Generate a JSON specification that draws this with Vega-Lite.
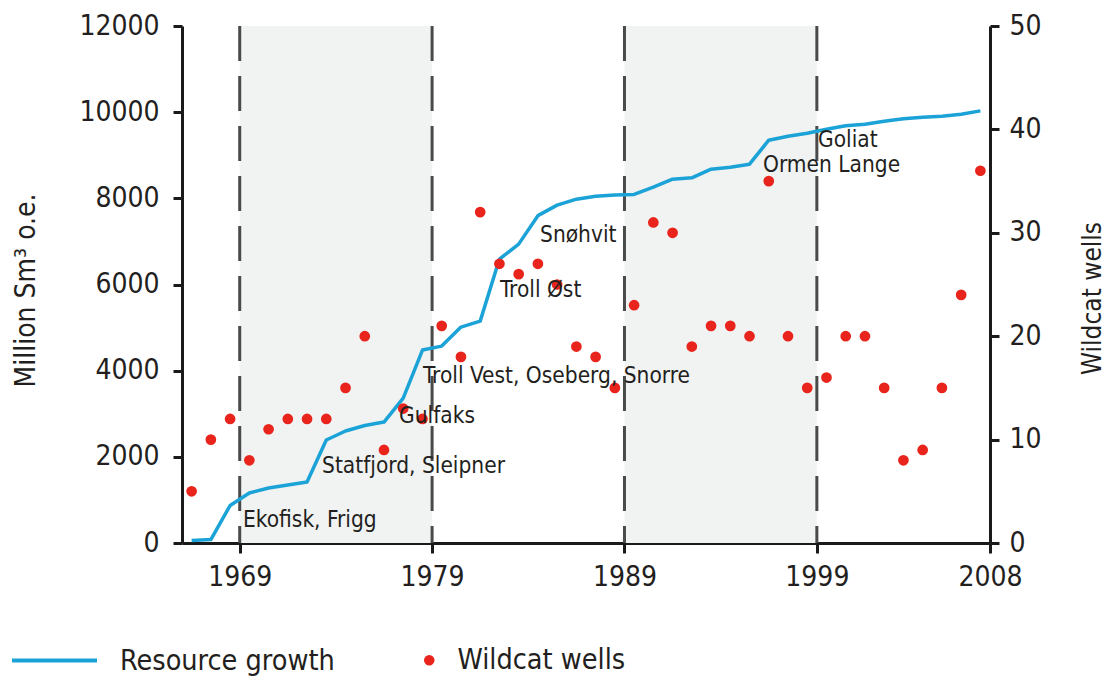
{
  "$schema": "https://vega.github.io/schema/vega-lite/v6.json",
  "width": 808,
  "height": 517,
  "autosize": {"type": "none"},
  "padding": {"left": 182, "top": 26, "right": 122, "bottom": 141},
  "background": "white",
  "config": {
    "font": "DejaVu Sans Condensed, DejaVu Sans, sans-serif",
    "view": {"stroke": null},
    "axis": {
      "grid": false,
      "domainColor": "#1a1a1a",
      "domainWidth": 3,
      "tickColor": "#1a1a1a",
      "tickWidth": 3,
      "tickSize": 9,
      "labelColor": "#231f20",
      "labelFontSize": 28,
      "titleColor": "#231f20",
      "titleFontSize": 28,
      "titleFontWeight": "normal"
    }
  },
  "layer": [
    {
      "data": {"values": [{"start": 1969, "end": 1979}, {"start": 1989, "end": 1999}]},
      "mark": {"type": "rect", "color": "#f1f2f2"},
      "encoding": {
        "x": {
          "field": "start",
          "type": "quantitative",
          "scale": {"domain": [1966, 2008], "nice": false, "zero": false},
          "axis": {"values": [1969, 1979, 1989, 1999, 2008], "format": "d", "title": null, "labelFontSize": 28, "labelPadding": 10, "tickSize": 10, "labelFlush": false}
        },
        "x2": {"field": "end"}
      }
    },
    {
      "data": {"values": [{"year": 1969}, {"year": 1979}, {"year": 1989}, {"year": 1999}]},
      "mark": {"type": "rule", "color": "#4a4a4a", "strokeWidth": 3, "strokeDash": [35, 15]},
      "encoding": {"x": {"field": "year", "type": "quantitative", "title": null}}
    },
    {
      "data": {"values": [
        {"year": 1966.5, "value": 60, "series": "Resource growth"},
        {"year": 1967.5, "value": 80, "series": "Resource growth"},
        {"year": 1968.5, "value": 870, "series": "Resource growth"},
        {"year": 1969.5, "value": 1160, "series": "Resource growth"},
        {"year": 1970.5, "value": 1276, "series": "Resource growth"},
        {"year": 1971.5, "value": 1346, "series": "Resource growth"},
        {"year": 1972.5, "value": 1415, "series": "Resource growth"},
        {"year": 1973.5, "value": 2390, "series": "Resource growth"},
        {"year": 1974.5, "value": 2600, "series": "Resource growth"},
        {"year": 1975.5, "value": 2726, "series": "Resource growth"},
        {"year": 1976.5, "value": 2807, "series": "Resource growth"},
        {"year": 1977.5, "value": 3364, "series": "Resource growth"},
        {"year": 1978.5, "value": 4478, "series": "Resource growth"},
        {"year": 1979.5, "value": 4570, "series": "Resource growth"},
        {"year": 1980.5, "value": 5011, "series": "Resource growth"},
        {"year": 1981.5, "value": 5150, "series": "Resource growth"},
        {"year": 1982.5, "value": 6590, "series": "Resource growth"},
        {"year": 1983.5, "value": 6937, "series": "Resource growth"},
        {"year": 1984.5, "value": 7598, "series": "Resource growth"},
        {"year": 1985.5, "value": 7842, "series": "Resource growth"},
        {"year": 1986.5, "value": 7981, "series": "Resource growth"},
        {"year": 1987.5, "value": 8050, "series": "Resource growth"},
        {"year": 1988.5, "value": 8080, "series": "Resource growth"},
        {"year": 1989.5, "value": 8090, "series": "Resource growth"},
        {"year": 1990.5, "value": 8259, "series": "Resource growth"},
        {"year": 1991.5, "value": 8445, "series": "Resource growth"},
        {"year": 1992.5, "value": 8475, "series": "Resource growth"},
        {"year": 1993.5, "value": 8677, "series": "Resource growth"},
        {"year": 1994.5, "value": 8723, "series": "Resource growth"},
        {"year": 1995.5, "value": 8793, "series": "Resource growth"},
        {"year": 1996.5, "value": 9350, "series": "Resource growth"},
        {"year": 1997.5, "value": 9442, "series": "Resource growth"},
        {"year": 1998.5, "value": 9512, "series": "Resource growth"},
        {"year": 1999.5, "value": 9605, "series": "Resource growth"},
        {"year": 2000.5, "value": 9686, "series": "Resource growth"},
        {"year": 2001.5, "value": 9721, "series": "Resource growth"},
        {"year": 2002.5, "value": 9790, "series": "Resource growth"},
        {"year": 2003.5, "value": 9848, "series": "Resource growth"},
        {"year": 2004.5, "value": 9883, "series": "Resource growth"},
        {"year": 2005.5, "value": 9906, "series": "Resource growth"},
        {"year": 2006.5, "value": 9953, "series": "Resource growth"},
        {"year": 2007.5, "value": 10030, "series": "Resource growth"}
      ]},
      "mark": {"type": "line", "strokeWidth": 3.5, "strokeJoin": "round"},
      "encoding": {
        "x": {"field": "year", "type": "quantitative", "title": null},
        "y": {
          "field": "value",
          "type": "quantitative",
          "scale": {"domain": [0, 12000], "nice": false},
          "axis": {"orient": "left", "values": [0, 2000, 4000, 6000, 8000, 10000, 12000], "format": "d", "labelPadding": 14, "title": "Million Sm³ o.e.", "titleAngle": -90, "titleBaseline": "alphabetic", "titleX": -148, "titleY": 264, "titleAlign": "center"}
        },
        "stroke": {
          "field": "series",
          "type": "nominal",
          "scale": {"range": ["#1ba3d8"]},
          "legend": {"orient": "none", "legendX": -172, "legendY": 590, "title": null, "symbolType": "stroke", "symbolSize": 7225, "symbolStrokeWidth": 4, "labelFontSize": 28.5, "labelOffset": 21, "labelColor": "#231f20", "labelLimit": 400, "padding": 0}
        }
      }
    },
    {
      "data": {"values": [
        {"year": 1966.5, "wells": 5, "series": "Wildcat wells"},
        {"year": 1967.5, "wells": 10, "series": "Wildcat wells"},
        {"year": 1968.5, "wells": 12, "series": "Wildcat wells"},
        {"year": 1969.5, "wells": 8, "series": "Wildcat wells"},
        {"year": 1970.5, "wells": 11, "series": "Wildcat wells"},
        {"year": 1971.5, "wells": 12, "series": "Wildcat wells"},
        {"year": 1972.5, "wells": 12, "series": "Wildcat wells"},
        {"year": 1973.5, "wells": 12, "series": "Wildcat wells"},
        {"year": 1974.5, "wells": 15, "series": "Wildcat wells"},
        {"year": 1975.5, "wells": 20, "series": "Wildcat wells"},
        {"year": 1976.5, "wells": 9, "series": "Wildcat wells"},
        {"year": 1977.5, "wells": 13, "series": "Wildcat wells"},
        {"year": 1978.5, "wells": 12, "series": "Wildcat wells"},
        {"year": 1979.5, "wells": 21, "series": "Wildcat wells"},
        {"year": 1980.5, "wells": 18, "series": "Wildcat wells"},
        {"year": 1981.5, "wells": 32, "series": "Wildcat wells"},
        {"year": 1982.5, "wells": 27, "series": "Wildcat wells"},
        {"year": 1983.5, "wells": 26, "series": "Wildcat wells"},
        {"year": 1984.5, "wells": 27, "series": "Wildcat wells"},
        {"year": 1985.5, "wells": 25, "series": "Wildcat wells"},
        {"year": 1986.5, "wells": 19, "series": "Wildcat wells"},
        {"year": 1987.5, "wells": 18, "series": "Wildcat wells"},
        {"year": 1988.5, "wells": 15, "series": "Wildcat wells"},
        {"year": 1989.5, "wells": 23, "series": "Wildcat wells"},
        {"year": 1990.5, "wells": 31, "series": "Wildcat wells"},
        {"year": 1991.5, "wells": 30, "series": "Wildcat wells"},
        {"year": 1992.5, "wells": 19, "series": "Wildcat wells"},
        {"year": 1993.5, "wells": 21, "series": "Wildcat wells"},
        {"year": 1994.5, "wells": 21, "series": "Wildcat wells"},
        {"year": 1995.5, "wells": 20, "series": "Wildcat wells"},
        {"year": 1996.5, "wells": 35, "series": "Wildcat wells"},
        {"year": 1997.5, "wells": 20, "series": "Wildcat wells"},
        {"year": 1998.5, "wells": 15, "series": "Wildcat wells"},
        {"year": 1999.5, "wells": 16, "series": "Wildcat wells"},
        {"year": 2000.5, "wells": 20, "series": "Wildcat wells"},
        {"year": 2001.5, "wells": 20, "series": "Wildcat wells"},
        {"year": 2002.5, "wells": 15, "series": "Wildcat wells"},
        {"year": 2003.5, "wells": 8, "series": "Wildcat wells"},
        {"year": 2004.5, "wells": 9, "series": "Wildcat wells"},
        {"year": 2005.5, "wells": 15, "series": "Wildcat wells"},
        {"year": 2006.5, "wells": 24, "series": "Wildcat wells"},
        {"year": 2007.5, "wells": 36, "series": "Wildcat wells"}
      ]},
      "mark": {"type": "point", "filled": true, "size": 115, "opacity": 1, "strokeWidth": 0},
      "encoding": {
        "x": {"field": "year", "type": "quantitative", "title": null},
        "y": {
          "field": "wells",
          "type": "quantitative",
          "scale": {"domain": [0, 50], "nice": false},
          "axis": {"orient": "right", "values": [0, 10, 20, 30, 40, 50], "labelFontSize": 28, "labelPadding": 10, "title": "Wildcat wells", "titleFontSize": 26, "titleAngle": -90, "titleBaseline": "alphabetic", "titleX": 110, "titleY": 272, "titleAlign": "center"}
        },
        "fill": {
          "field": "series",
          "type": "nominal",
          "scale": {"range": ["#e8241c"]},
          "legend": {"orient": "none", "legendX": 233, "legendY": 620, "title": null, "symbolType": "circle", "symbolSize": 110, "symbolStrokeWidth": 0, "labelFontSize": 28.5, "labelOffset": 14, "labelColor": "#231f20", "labelLimit": 400, "padding": 0}
        }
      }
    },
    {
      "data": {"values": [
        {"label": "Ekofisk, Frigg", "x": 1969.17, "y": 371},
        {"label": "Statfjord, Sleipner", "x": 1973.28, "y": 1624},
        {"label": "Gulfaks", "x": 1977.28, "y": 2784},
        {"label": "Troll Vest, Oseberg, Snorre", "x": 1978.53, "y": 3712},
        {"label": "Troll Øst", "x": 1982.53, "y": 5707},
        {"label": "Snøhvit", "x": 1984.61, "y": 6983},
        {"label": "Goliat", "x": 1999.06, "y": 9187},
        {"label": "Ormen Lange", "x": 1996.2, "y": 8607}
      ]},
      "mark": {"type": "text", "align": "left", "baseline": "alphabetic", "fontSize": 22.5, "color": "#231f20"},
      "encoding": {
        "x": {"field": "x", "type": "quantitative", "title": null},
        "y": {"field": "y", "type": "quantitative", "scale": {"domain": [0, 12000], "nice": false}, "axis": null},
        "text": {"field": "label"}
      }
    }
  ],
  "resolve": {"scale": {"y": "independent", "stroke": "independent", "fill": "independent"}}
}
